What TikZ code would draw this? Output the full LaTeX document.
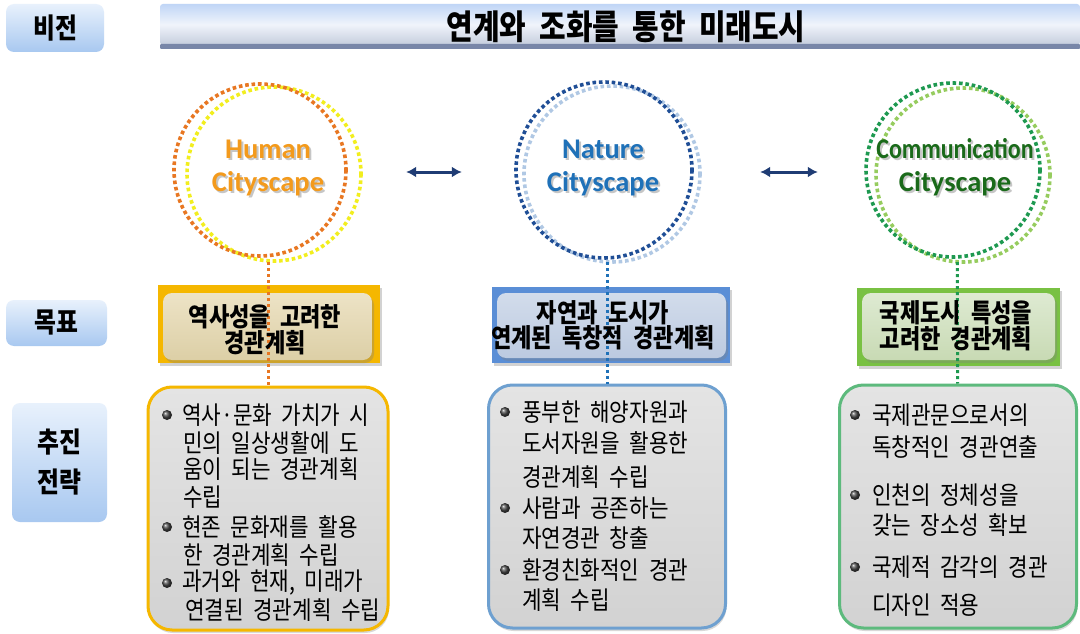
\documentclass[tikz,border=0pt]{standalone}
\usepackage{fontspec}
\setmainfont{Noto Sans CJK KR}[WordSpace=2, FakeStretch=0.92]
\newfontfamily\krn{Noto Sans CJK KR}[WordSpace=2, FakeStretch=0.85]
\newfontfamily\latf{Carlito}
\usetikzlibrary{arrows.meta,shadows}
\definecolor{labtop}{HTML}{E8F1FC}
\definecolor{labbot}{HTML}{A8C8F0}
\definecolor{bantop}{HTML}{C0D5F6}
\definecolor{banmid}{HTML}{F0F4FB}
\definecolor{banbot}{HTML}{C4CCDC}
\definecolor{banedge}{HTML}{7886A8}
\definecolor{orangec}{HTML}{E87722}
\definecolor{yellowc}{HTML}{F2EE1E}
\definecolor{humtxt}{HTML}{F39A1C}
\definecolor{navyc}{HTML}{1F3C74}
\definecolor{bluedk}{HTML}{1F4E96}
\definecolor{bluelt}{HTML}{B0C8E4}
\definecolor{nattxt}{HTML}{1F71B8}
\definecolor{greendk}{HTML}{1E9950}
\definecolor{greenlt}{HTML}{96CC5E}
\definecolor{comtxt}{HTML}{1A6A1A}
\definecolor{goldc}{HTML}{F5B700}
\definecolor{hintop}{HTML}{EDE3C6}
\definecolor{hinbot}{HTML}{DCCFA6}
\definecolor{nout}{HTML}{5A8ED6}
\definecolor{nintop}{HTML}{D2DCEB}
\definecolor{ninbot}{HTML}{BCCAE0}
\definecolor{cout}{HTML}{79C143}
\definecolor{cintop}{HTML}{DEEAD2}
\definecolor{cinbot}{HTML}{C8DAB4}
\definecolor{sttop}{HTML}{E4E4E4}
\definecolor{stbot}{HTML}{D2D2D2}
\definecolor{nbord}{HTML}{6EA0D0}
\definecolor{cbord}{HTML}{5DBA7D}
\begin{document}
\begin{tikzpicture}[x=1pt,y=-1pt,
  lab/.style={rounded corners=8pt, top color=labtop, bottom color=labbot, inner sep=0pt,
    font=\krn\bfseries\fontsize{28}{40}\selectfont, align=center},
  circ/.style={line width=3.6pt, dash pattern=on 3.6pt off 2.8pt},
  grp/.style={circle, minimum size=180pt, inner sep=0pt},
  conn/.style={line width=3pt, dash pattern=on 3pt off 3pt},
  dbl/.style={line width=3pt, navyc, {Latex[length=10pt,width=11pt]}-{Latex[length=10pt,width=11pt]}},
  ctx/.style={font=\latf\bfseries\fontsize{28.5}{33}\selectfont, align=center, inner sep=0pt},
  outer/.style={inner sep=0pt, drop shadow={opacity=0.35, shadow xshift=2pt, shadow yshift=-3pt}},
  inner/.style={rounded corners=9pt, inner sep=0pt, drop shadow={opacity=0.35, shadow xshift=2pt, shadow yshift=-3pt}},
  gtx/.style={font=\krn\bfseries\fontsize{26}{25.5}\selectfont, align=center, inner sep=0pt},
  strat/.style={rounded corners=24pt, line width=3pt, top color=sttop, bottom color=stbot, inner sep=0pt,
    drop shadow={opacity=0.3, shadow xshift=1pt, shadow yshift=-3pt}},
  tx/.style={anchor=west, inner sep=0pt, font=\krn\fontsize{25}{25}\selectfont},
  bul/.style={circle, inner sep=0pt, minimum size=10pt, ball color=gray!55!black}]
\fill[white] (0,0) rectangle (1080,634);
\useasboundingbox (0,0) rectangle (1080,634);
% row labels
\node[lab, minimum width=98pt, minimum height=48pt] (lv) at (55,28) {비전};
\node[lab, minimum width=101pt, minimum height=46pt] (lg) at (56.5,323) {목표};
\node[lab, minimum width=95pt, minimum height=119pt] (ls) at (59.5,462.5) {추진\\전략};
% banner
\node[inner sep=0pt, minimum width=920pt, minimum height=41pt, rounded corners=3pt,
  top color=bantop, bottom color=banbot, middle color=banmid] (vb) at (620,24.5) {};
\fill[banedge, rounded corners=1pt] (160,44) rectangle (1080,49);
\node[font=\krn\bfseries\fontsize{34}{34}\selectfont, inner sep=0pt] (vt) at (626,27) {연계와 조화를 통한 미래도시};
% circles
\node[grp] (hc) at (268,172) {};
\node[grp] (nc) at (607,172) {};
\node[grp] (cc) at (957,172) {};
\draw[circ, yellowc] (274,174) circle[radius=87];
\draw[circ, orangec] (260,170) circle[radius=86];
\draw[circ, bluelt] (612,174) circle[radius=88];
\draw[circ, bluedk] (604,170) circle[radius=88];
\draw[circ, greenlt] (963,175) circle[radius=87];
\draw[circ, greendk] (953,170) circle[radius=87];
\node[ctx, gray!45] (hts) at (270,170) {Human\\Cityscape};
\node[ctx, humtxt] (ht) at (268,168) {Human\\Cityscape};
\node[ctx, gray!45] (nts) at (605,170) {Nature\\Cityscape};
\node[ctx, nattxt] (nt) at (603,168) {Nature\\Cityscape};
\node[ctx, gray!45] (cts) at (957,169) {\scalebox{0.84}[1]{Communication}\\Cityscape};
\node[ctx, comtxt] (ct) at (955,167) {\scalebox{0.84}[1]{Communication}\\Cityscape};
% arrows
\draw[dbl, shorten <=48pt, shorten >=55pt] (hc) -- (nc);
\draw[dbl, shorten <=63pt, shorten >=49pt] (nc) -- (cc);
% goal boxes
\node[outer, fill=goldc, minimum width=222pt, minimum height=78pt] (hg) at (269,324) {};
\node[inner, top color=hintop, bottom color=hinbot, minimum width=209pt, minimum height=67pt] (hgi) at (267.5,326.5) {};
\node[outer, fill=nout, minimum width=238pt, minimum height=76pt] (ng) at (611,325) {};
\node[inner, top color=nintop, bottom color=ninbot, minimum width=229pt, minimum height=65pt] (ngi) at (611.5,325.5) {};
\node[outer, fill=cout, minimum width=203pt, minimum height=78pt] (cg) at (958.5,326.5) {};
\node[inner, top color=cintop, bottom color=cinbot, minimum width=193pt, minimum height=67pt] (cgi) at (958.5,326.5) {};
% strategy boxes
\node[strat, draw=goldc, minimum width=240pt, minimum height=243pt] (hs) at (268,508.5) {};
\node[strat, draw=nbord, minimum width=237pt, minimum height=243pt] (ns) at (607,506.5) {};
\node[strat, draw=cbord, minimum width=237pt, minimum height=243pt] (cs) at (958,506.5) {};
% connectors
\draw[conn, orangec] (hc) -- (hs);
\draw[conn, nattxt] (nc) -- (ns);
\draw[conn, greendk] (cc) -- (cs);
% goal texts
\node[gtx] (hgt) at (265,329.5) {역사성을 고려한\\경관계획};
\node[gtx] (ngt) at (603,325.5) {자연과 도시가\\연계된 독창적 경관계획};
\node[gtx] (cgt) at (956,326) {국제도시 특성을\\고려한 경관계획};
% human strategies
\node[bul] (hb1) at (167,415) {};
\node[bul] (hb2) at (167,527) {};
\node[bul] (hb3) at (167,583) {};
\node[tx] (h1) at (182,415) {역사·문화 가치가 시};
\node[tx] (h2) at (183,443) {민의 일상생활에 도};
\node[tx] (h3) at (183,469) {움이 되는 경관계획};
\node[tx] (h4) at (183,497) {수립};
\node[tx] (h5) at (182,527) {현존 문화재를 활용};
\node[tx] (h6) at (183,555) {한 경관계획 수립};
\node[tx] (h7) at (182,583) {과거와 현재, 미래가};
\node[tx] (h8) at (185,610) {연결된 경관계획 수립};
% nature strategies
\node[bul] (nb1) at (505,412) {};
\node[bul] (nb2) at (505,508) {};
\node[bul] (nb3) at (505,570) {};
\node[tx] (n1) at (522,412) {풍부한 해양자원과};
\node[tx] (n2) at (522,443) {도서자원을 활용한};
\node[tx] (n3) at (522,477) {경관계획 수립};
\node[tx] (n4) at (522,508) {사람과 공존하는};
\node[tx] (n5) at (522,538) {자연경관 창출};
\node[tx] (n6) at (522,570) {환경친화적인 경관};
\node[tx] (n7) at (522,600) {계획 수립};
% communication strategies
\node[bul] (cb1) at (855,415) {};
\node[bul] (cb2) at (855,495) {};
\node[bul] (cb3) at (855,567) {};
\node[tx] (c1) at (872,415) {국제관문으로서의};
\node[tx] (c2) at (872,447) {독창적인 경관연출};
\node[tx] (c3) at (872,495) {인천의 정체성을};
\node[tx] (c4) at (872,525) {갖는 장소성 확보};
\node[tx] (c5) at (872,567) {국제적 감각의 경관};
\node[tx] (c6) at (872,605) {디자인 적용};
\end{tikzpicture}
\end{document}
